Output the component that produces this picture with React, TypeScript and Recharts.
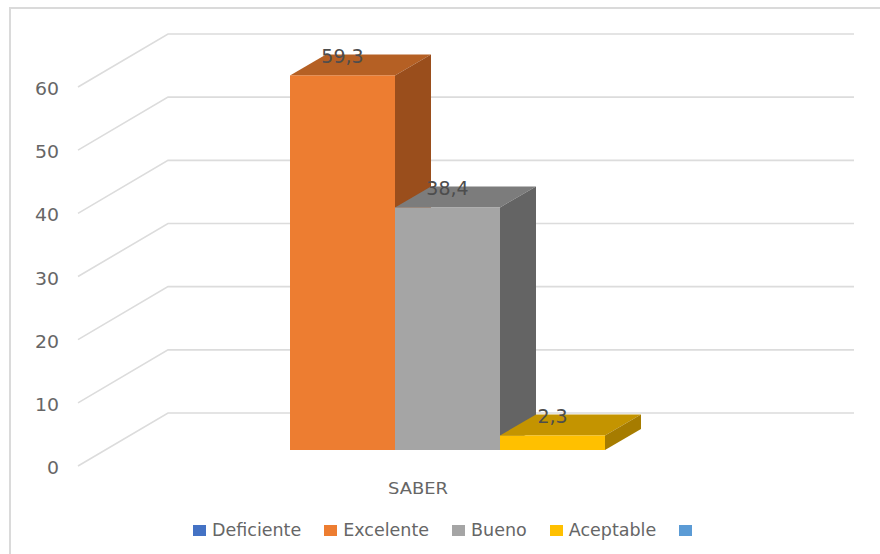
import { BarChart, Bar, XAxis, YAxis, CartesianGrid, Legend, LabelList } from 'recharts';

const categories = ['SABER'];
const deficiente = [0];
const excelente = [59.3];
const bueno = [38.4];
const aceptable = [2.3];
const blank = [0];
const yTicks = [0, 10, 20, 30, 40, 50, 60];

const chartData = categories.map((name, i) => ({
  name,
  deficiente: deficiente[i],
  excelente: excelente[i],
  bueno: bueno[i],
  aceptable: aceptable[i],
  blank: blank[i],
}));

// depth of the fake 3D boxes
const DX = 36;
const DY = 21;

const FONT = '"DejaVu Sans", sans-serif';

const Box3D = ({ x, y, width, height, fill, topFill, sideFill }: any) => {
  if (!height || height <= 0) return null;
  const r = x + width;
  const b = y + height;
  return (
    <g>
      <polygon points={`${x},${y} ${x + DX},${y - DY} ${r + DX},${y - DY} ${r},${y}`} fill={topFill} />
      <polygon points={`${r},${y} ${r + DX},${y - DY} ${r + DX},${b - DY} ${r},${b}`} fill={sideFill} />
      <rect x={x} y={y} width={width} height={height} fill={fill} />
    </g>
  );
};

// gridline runs from the front edge back along the floor, then across the wall
const gridLine = ({ y1 }: any) => (
  <polyline
    key={y1}
    points={`78,${y1 + 16} 168,${y1 - 37} 854,${y1 - 37}`}
    fill="none"
    stroke="#DCDCDC"
    strokeWidth={1.6}
  />
);

const YTick = ({ y, payload }: any) => (
  <text x={59} y={y + 16} dy={8} textAnchor="end" fontFamily={FONT} fontSize={18} fill="#666666" textLength={String(payload.value).length * 12} lengthAdjust="spacingAndGlyphs">
    {payload.value}
  </text>
);

const XTick = ({ x, payload }: any) => (
  <text x={x - 30} y={494} textAnchor="middle" fontFamily={FONT} fontSize={15} fill="#666666" textLength={60} lengthAdjust="spacingAndGlyphs">
    {payload.value}
  </text>
);

const LegendContent = ({ payload }: any) => (
  <div style={{ display: 'flex', alignItems: 'center', fontFamily: FONT, fontSize: 17.5, color: '#666666', whiteSpace: 'pre' }}>
    {(payload || []).map((item: any) => (
      <div key={item.dataKey} style={{ display: 'flex', alignItems: 'center', marginRight: 23 }}>
        <span style={{ width: 13, height: 11, background: item.color, marginRight: 6 }} />
        <span>{item.value}</span>
      </div>
    ))}
  </div>
);

const fmt = (v: any) => String(v).replace('.', ',');

const labelProps = {
  position: 'top' as const,
  offset: 12,
  formatter: fmt,
  fontFamily: FONT,
  fontSize: 19,
  fill: '#4D4D4D',
};

export default function App() {
  return (
    <div style={{ position: 'absolute', left: 0, top: 0, width: 880, height: 554, background: '#fff', overflow: 'hidden' }}>
      <div style={{ position: 'absolute', left: 9, top: 7, width: 880, height: 560, borderLeft: '2.5px solid #DADADA', borderTop: '2px solid #DADADA' }} />
      <BarChart
        width={880}
        height={554}
        data={chartData}
        margin={{ top: 71, right: 119, bottom: 0, left: 0 }}
        barGap={0}
        barCategoryGap={50}
        style={{ position: 'absolute', left: 0, top: 0 }}
      >
        <CartesianGrid vertical={false} horizontal={gridLine} />
        <XAxis dataKey="name" height={82} axisLine={false} tickLine={false} tick={<XTick />} />
        <YAxis width={135} domain={[0, 60]} ticks={yTicks} axisLine={false} tickLine={false} tick={<YTick />} />
        <Legend
          content={<LegendContent />}
          itemSorter={null}
          wrapperStyle={{ left: 193, top: 520, width: 620, height: 22 }}
        />
        <Bar dataKey="deficiente" name="Deficiente" fill="#4472C4" isAnimationActive={false}
          shape={<Box3D topFill="#335693" sideFill="#294576" />} />
        <Bar dataKey="excelente" name="Excelente" fill="#ED7D31" isAnimationActive={false}
          shape={<Box3D topFill="#B56024" sideFill="#9A4E1C" />}>
          <LabelList dataKey="excelente" {...labelProps} />
        </Bar>
        <Bar dataKey="bueno" name="Bueno" fill="#A5A5A5" isAnimationActive={false}
          shape={<Box3D topFill="#7C7C7C" sideFill="#646464" />}>
          <LabelList dataKey="bueno" {...labelProps} />
        </Bar>
        <Bar dataKey="aceptable" name="Aceptable" fill="#FFC000" isAnimationActive={false}
          shape={<Box3D topFill="#C49400" sideFill="#A67C00" />}>
          <LabelList dataKey="aceptable" {...labelProps} />
        </Bar>
        <Bar dataKey="blank" name=" " fill="#5B9BD5" isAnimationActive={false}
          shape={<Box3D topFill="#4575A1" sideFill="#375E81" />} />
      </BarChart>
    </div>
  );
}
